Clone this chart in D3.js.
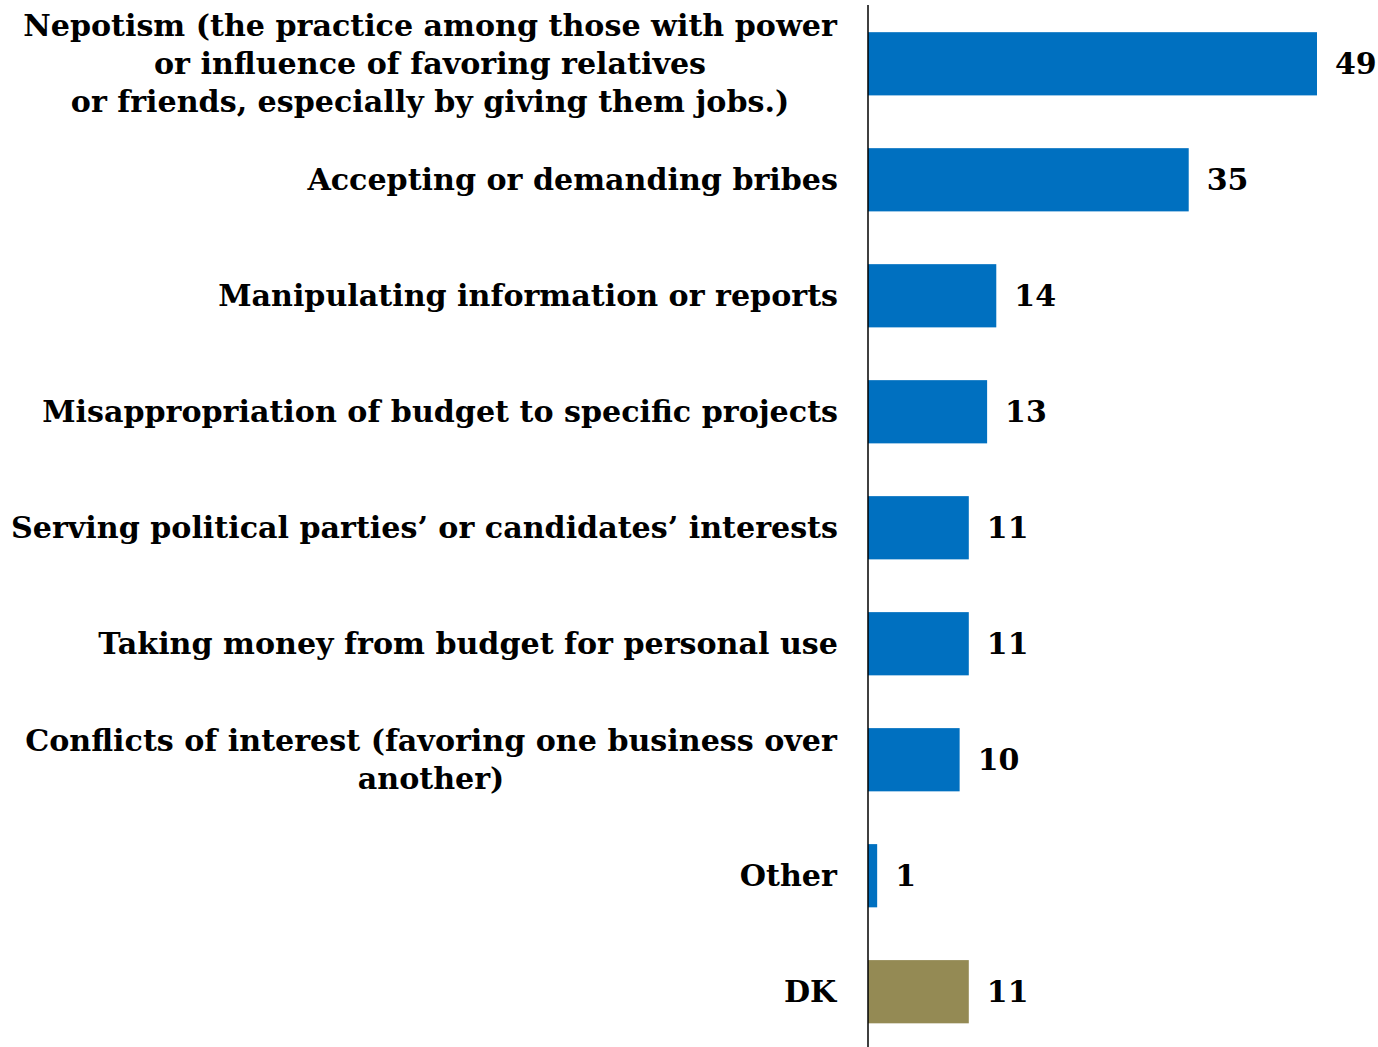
<!DOCTYPE html>
<html><head><meta charset="utf-8">
<script src="https://cdn.jsdelivr.net/npm/d3@7"></script>
<style>body{margin:0;background:#fff}svg{display:block}</style>
</head><body>
<script>
const categories = [
  ["Nepotism (the practice among those with power", "or influence of favoring relatives", "or friends, especially by giving them jobs.)"],
  ["Accepting or demanding bribes"],
  ["Manipulating information or reports"],
  ["Misappropriation of budget to specific projects"],
  ["Serving political parties’ or candidates’ interests"],
  ["Taking money from budget for personal use"],
  ["Conflicts of interest (favoring one business over", "another)"],
  ["Other"],
  ["DK"]
];
const values = [49, 35, 14, 13, 11, 11, 10, 1, 11];
const seriesColors = ["#0070C0","#0070C0","#0070C0","#0070C0","#0070C0","#0070C0","#0070C0","#0070C0","#948A54"];

const W = 1378, H = 1047;
const x0 = 868, labelRight = 838;
const svg = d3.select("body").append("svg").attr("width", W).attr("height", H);
const font = "'DejaVu Serif', serif";

const x = d3.scaleLinear().domain([0, 49]).range([x0, 1317]);
const y = d3.scaleBand().domain(d3.range(values.length)).range([5.5, 1050])
  .paddingInner(0.455).paddingOuter(0.23);

const probe = svg.append("text").attr("font-family", font).attr("font-weight", "bold").attr("font-size", 30)
  .text(categories[0][0]);
const w30 = probe.node().getComputedTextLength();
probe.remove();
const fs = Math.min(32, 30 * 814 / w30);

svg.selectAll("rect.bar").data(values).join("rect")
  .attr("x", x(0)).attr("y", (d, i) => y(i))
  .attr("width", d => x(d) - x(0)).attr("height", y.bandwidth())
  .attr("fill", (d, i) => seriesColors[i]);

svg.append("line").attr("x1", x0).attr("x2", x0).attr("y1", 5).attr("y2", H)
  .attr("stroke", "#000").attr("stroke-width", 1.5);

const lh = 38;
categories.forEach((lines, i) => {
  const cy = y(i) + y.bandwidth() / 2;
  const g = svg.append("g");
  const t = g.append("text").attr("font-family", font).attr("font-weight", "bold")
    .attr("font-size", fs).attr("fill", "#000").attr("text-anchor", "middle");
  lines.forEach((ln, j) => {
    t.append("tspan").attr("x", 0).attr("y", cy + (j - (lines.length - 1) / 2) * lh)
      .attr("dominant-baseline", "central").text(ln);
  });
  const bb = t.node().getBBox();
  g.attr("transform", `translate(${labelRight - (bb.x + bb.width)},0)`);
});

svg.selectAll("text.val").data(values).join("text")
  .attr("class", "val")
  .attr("x", d => x(d) + 18).attr("y", (d, i) => y(i) + y.bandwidth() / 2)
  .attr("dominant-baseline", "central")
  .attr("font-family", font).attr("font-weight", "bold").attr("font-size", 30)
  .attr("fill", "#000").text(d => d);
</script>
</body></html>
